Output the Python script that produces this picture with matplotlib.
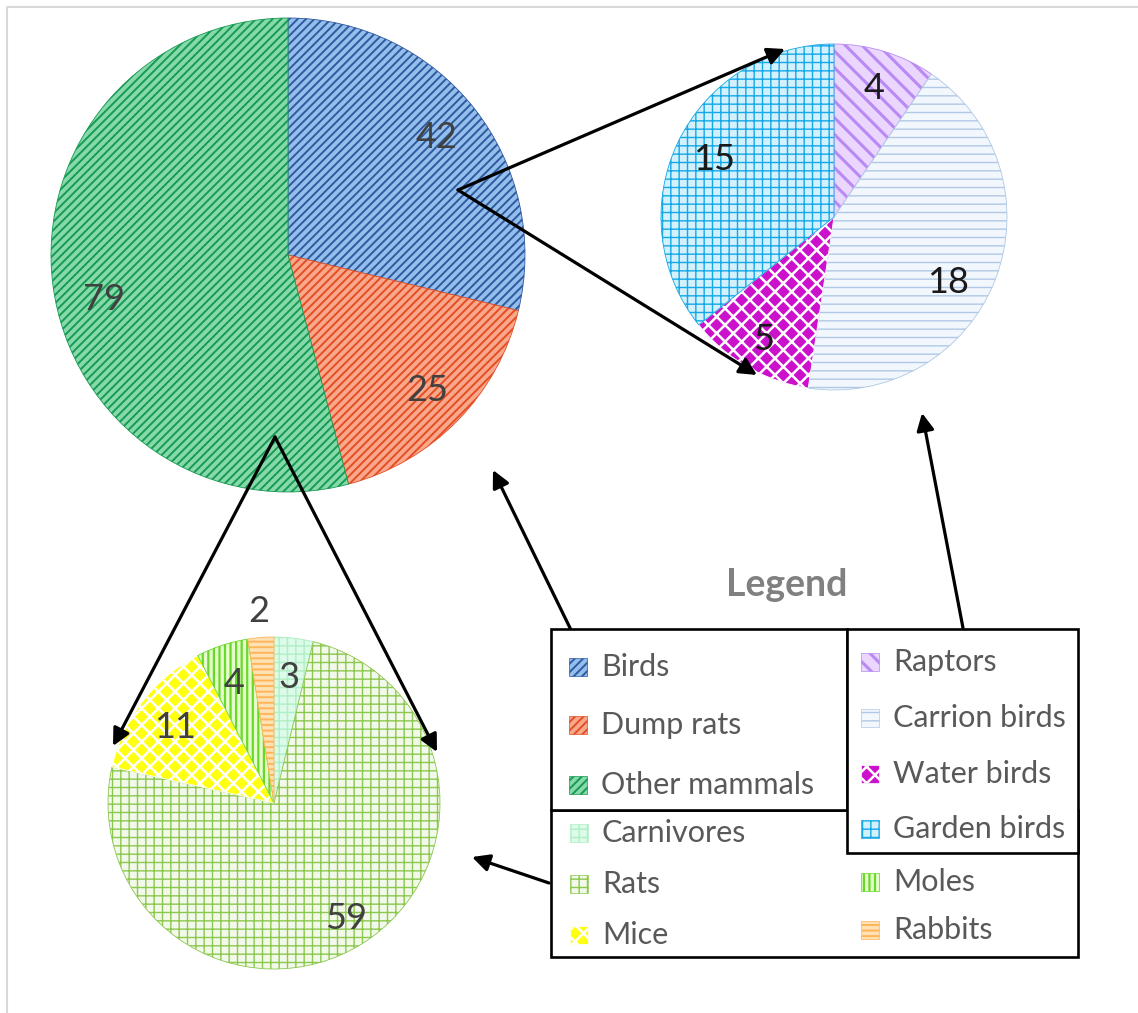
import numpy as np
import matplotlib.pyplot as plt
from matplotlib.patches import Rectangle

W, H = 1138, 1013

main_labels = ['Birds', 'Dump rats', 'Other mammals']
main_values = [42, 25, 79]
bird_labels = ['Raptors', 'Carrion birds', 'Water birds', 'Garden birds']
bird_values = [4, 18, 5, 15]
mammal_labels = ['Carnivores', 'Rats', 'Mice', 'Moles', 'Rabbits']
mammal_values = [3, 59, 11, 4, 2]

# face colour, hatch, hatch colour, hatch linewidth
styles = {
    'Birds':         ('#94bfec', '////', '#2f5aa0', 1.4),
    'Dump rats':     ('#f9a88c', '////', '#e44e24', 1.4),
    'Other mammals': ('#86d9aa', '////', '#179a52', 1.4),
    'Raptors':       ('#ead6ff', '\\\\', '#b98bf2', 2.2),
    'Carrion birds': ('#f1f7fd', '--',   '#b0c8e4', 1.0),
    'Water birds':   ('#cc11cc', 'xx',   '#ffffff', 1.8),
    'Garden birds':  ('#d2f1fc', '++',   '#14a8e6', 1.0),
    'Carnivores':    ('#dcfbe8', '++',   '#b0eec6', 1.0),
    'Rats':          ('#f2f9ea', '++',   '#8cc84e', 1.0),
    'Mice':          ('#ffff10', 'xx',   '#ffffff', 1.8),
    'Moles':         ('#e4ffcc', '|||',  '#6ad82a', 1.6),
    'Rabbits':       ('#ffe2b4', '---',  '#ffb45a', 1.4),
}

plt.rcParams['font.family'] = ['Lato', 'DejaVu Sans']


def fy(y):
    return H - y


def style_patch(p, name):
    face, hatch, hc, lw = styles[name]
    p.set_facecolor(face)
    p.set_edgecolor(hc)
    p.set_hatch(hatch)
    if hasattr(p, 'set_hatch_linewidth'):
        p.set_hatch_linewidth(lw)


def draw_pie(ax, names, values, cx, cy, r, dists, angles, tcolor):
    wedges, _ = ax.pie(values, startangle=90, counterclock=False,
                       center=(cx, fy(cy)), radius=r, frame=True,
                       wedgeprops=dict(linewidth=0.6))
    for w, name, v, d, a in zip(wedges, names, values, dists, angles):
        style_patch(w, name)
        if a is None:
            a = (w.theta1 + w.theta2) / 2
        t = np.deg2rad(a)
        ax.text(cx + d * r * np.cos(t), fy(cy) + d * r * np.sin(t), str(v),
                ha='center', va='center', fontsize=26, color=tcolor)


fig = plt.figure(figsize=(W / 100, H / 100), dpi=100)
ax = fig.add_axes([0, 0, 1, 1])

draw_pie(ax, main_labels, main_values, 288, 255, 237,
         [0.8, 0.82, 0.8], [None, None, 193.7], '#404040')
draw_pie(ax, bird_labels, bird_values, 834, 217, 173,
         [0.78, 0.76, 0.82, 0.77], [None, -30, None, None], '#1a1a1a')
draw_pie(ax, mammal_labels, mammal_values, 274, 803, 166,
         [0.76, 0.82, 0.75, 0.76, 1.16], [None] * 5, '#404040')

# arrows
arrows = [
    ((458, 190), (785, 49)),
    ((458, 190), (757, 375)),
    ((275, 437), (113, 746)),
    ((275, 437), (437, 752)),
    ((571, 630), (493, 470)),
    ((963, 628), (922, 413)),
    ((549, 883), (472, 857)),
]
for (x0, y0), (x1, y1) in arrows:
    ax.annotate('', xy=(x1, fy(y1)), xytext=(x0, fy(y0)),
                arrowprops=dict(arrowstyle='-|>', lw=2.3, color='black',
                                mutation_scale=26, shrinkA=0, shrinkB=0))

# legend boxes
for x0, y0, x1, y1 in [(551, 810, 1078, 957), (551, 629, 847, 810),
                       (847, 629, 1078, 853)]:
    ax.add_patch(Rectangle((x0, fy(y1)), x1 - x0, y1 - y0, facecolor='white',
                           edgecolor='black', lw=1.9, zorder=3))

ax.text(787, fy(585), 'Legend', ha='center', va='center', fontsize=27,
        fontweight='bold', color='#808080')

entries = [
    ('Birds', 569, 667), ('Dump rats', 569, 725), ('Other mammals', 569, 785),
    ('Raptors', 861, 662), ('Carrion birds', 861, 718),
    ('Water birds', 861, 774), ('Garden birds', 861, 829),
    ('Carnivores', 570, 833), ('Rats', 570, 884), ('Mice', 570, 935),
    ('Moles', 861, 882), ('Rabbits', 861, 930),
]
for name, x, y in entries:
    sw = Rectangle((x, fy(y) - 9), 18, 18, lw=0.5, zorder=4)
    style_patch(sw, name)
    ax.add_patch(sw)
    ax.text(x + 32, fy(y), name, ha='left', va='center', fontsize=22,
            color='#595959', zorder=4)

# outer frame lines
ax.plot([7, 7, W], [0, fy(7), fy(7)], color='#d9d9d9', lw=1.5)

ax.set_xlim(0, W)
ax.set_ylim(0, H)
ax.axis('off')
fig.savefig('out.png', dpi=100)
